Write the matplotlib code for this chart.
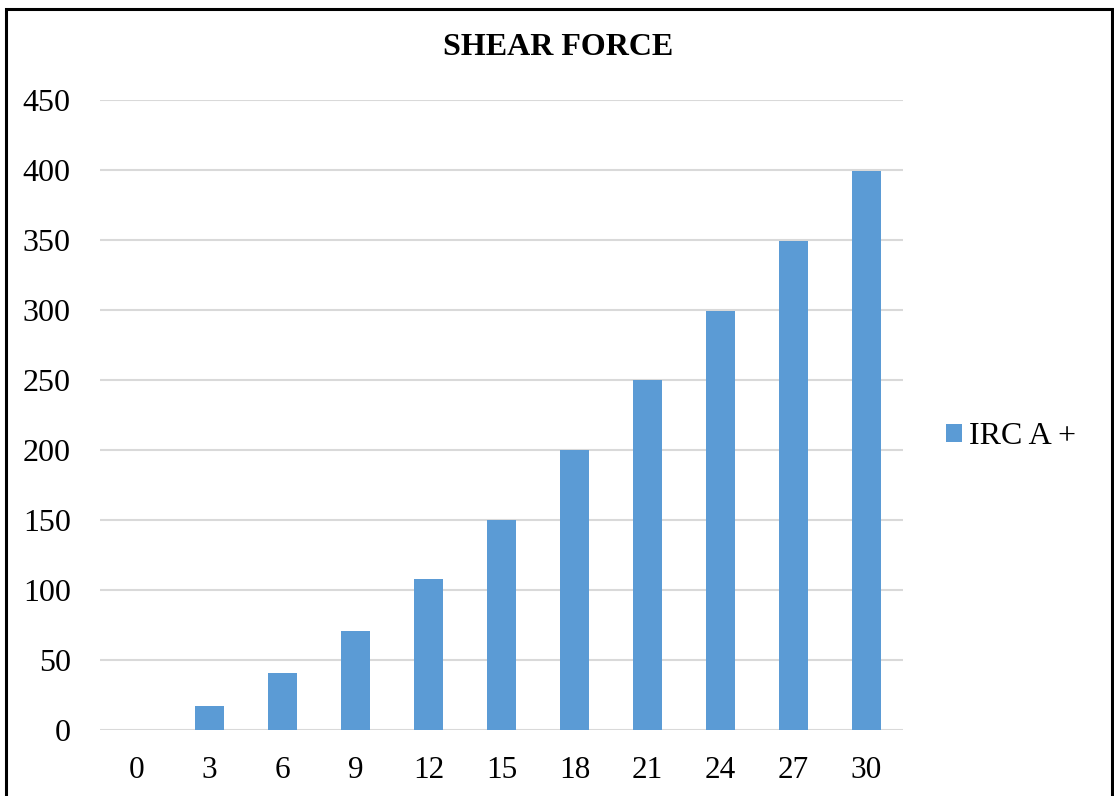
import matplotlib
matplotlib.use("Agg")
import matplotlib.pyplot as plt
from matplotlib.patches import Rectangle

categories = ["0", "3", "6", "9", "12", "15", "18", "21", "24", "27", "30"]
values = [0, 17, 41, 71, 108, 150, 200, 250, 299, 349, 399]
series_name = "IRC A +"
yticks = [0, 50, 100, 150, 200, 250, 300, 350, 400, 450]

plt.rcParams['font.family'] = ['Liberation Serif', 'DejaVu Serif']

W, H = 1114, 796
fig = plt.figure(figsize=(W / 100, H / 100), dpi=100)
ax = fig.add_axes([100 / W, 1 - 730 / H, 803 / W, 630 / H])

x = list(range(len(categories)))
ax.bar(x, values, width=0.41, color="#5B9BD5", label=series_name, zorder=3)
ax.set_xlim(-0.5, len(categories) - 0.5)
ax.set_ylim(0, 450)
ax.set_yticks(yticks)
ax.set_yticklabels([str(t) for t in yticks])
ax.set_xticks(x)
ax.set_xticklabels(categories)
ax.tick_params(axis='both', length=0)
ax.tick_params(axis='y', labelsize=23, pad=21)
ax.tick_params(axis='x', labelsize=22.5, pad=19)
ax.grid(axis='y', color="#d9d9d9", linewidth=1.5, zorder=0)
for s in ax.spines.values():
    s.set_visible(False)

fig.text(558.5 / W, 1 - 47.5 / H, "SHEAR FORCE", ha='center', va='center',
         fontsize=23, fontweight='bold')

leg = fig.legend(loc='center left', bbox_to_anchor=(946 / W, 1 - 437 / H),
                 frameon=False, fontsize=23, handlelength=0.5, handleheight=0.5,
                 handletextpad=0.22, borderpad=0, borderaxespad=0)

border = Rectangle((6 / W, -0.05), (1112 - 6) / W, (1 - 9 / H) + 0.05,
                   transform=fig.transFigure, fill=False, edgecolor='black',
                   linewidth=2.2, clip_on=False)
fig.patches.append(border)

fig.savefig("out.png", dpi=100)
